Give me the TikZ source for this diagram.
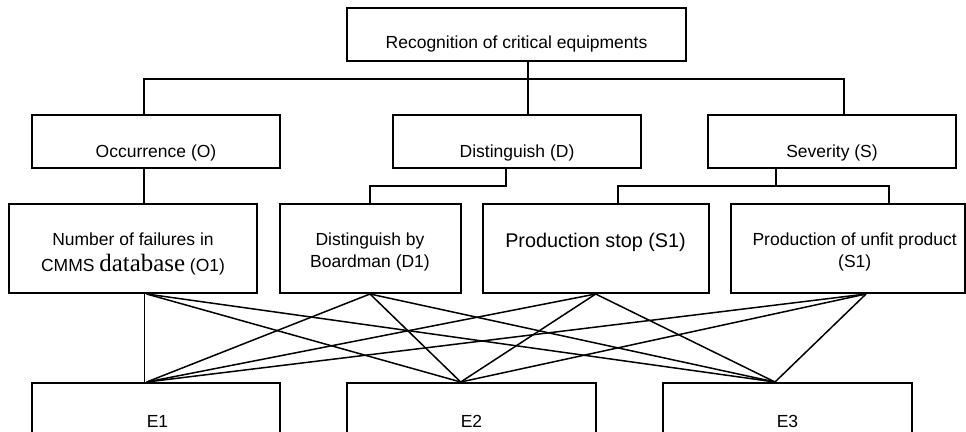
\documentclass[tikz,border=0pt]{standalone}
\usepackage{fontspec}
\setmainfont{Liberation Sans}
\newfontfamily\dbserif{Liberation Serif}
\begin{document}
\begin{tikzpicture}[x=1pt,y=-1pt,
  box/.style={draw=black, line width=2pt, rectangle, inner sep=0pt},
  tree/.style={draw=black, line width=1.8pt},
  cross/.style={draw=black, line width=1.5pt},
  thin/.style={draw=black, line width=1.2pt},
  txt/.style={anchor=base, inner sep=0pt, font=\fontsize{17.5}{20}\selectfont},
  bigtxt/.style={anchor=base, inner sep=0pt, font=\fontsize{19.8}{22}\selectfont}]
\clip (0,0) rectangle (966,431);
\fill[white] (0,0) rectangle (966,431);

% boxes
\node[box, minimum width=339pt, minimum height=53pt] (T) at (516.5,34.5) {};
\node[box, minimum width=248pt, minimum height=53pt] (O) at (156,141.5) {};
\node[box, minimum width=248pt, minimum height=53pt] (D) at (517,141.5) {};
\node[box, minimum width=248pt, minimum height=53pt] (S) at (832,141.5) {};
\node[box, minimum width=248pt, minimum height=89pt] (B1) at (133,248.5) {};
\node[box, minimum width=181pt, minimum height=89pt] (B2) at (370,248.5) {};
\node[box, minimum width=226pt, minimum height=89pt] (B3) at (596,248.5) {};
\node[box, minimum width=234pt, minimum height=89pt] (B4) at (848,248.5) {};
\node[box, minimum width=248pt, minimum height=80pt] (E1) at (156,423) {};
\node[box, minimum width=249pt, minimum height=80pt] (E2) at (471.5,423) {};
\node[box, minimum width=249pt, minimum height=80pt] (E3) at (787.5,423) {};

% texts
\node[txt] (tT) at (516.5,48.3) {Recognition of critical equipments};
\node[txt] (tO) at (156,157) {Occurrence (O)};
\node[txt] (tD) at (517,157) {Distinguish (D)};
\node[txt] (tS) at (832,157) {Severity (S)};
\node[txt] (tB1a) at (133,245.7) {Number of failures in};
\node[txt] (tB1b) at (133,271.5) {CMMS {\dbserif\fontsize{24.9}{26}\selectfont database} (O1)};
\node[txt] (tB2a) at (370,245.7) {Distinguish by};
\node[txt] (tB2b) at (370,267.7) {Boardman (D1)};
\node[bigtxt] (tB3) at (595.5,247.7) {Production stop (S1)};
\node[txt] (tB4a) at (854.7,245.7) {Production of unfit product};
\node[txt] (tB4b) at (854.7,267.3) {(S1)};
\node[txt] (tE1) at (157.5,427.7) {E1};
\node[txt] (tE2) at (471.5,427.7) {E2};
\node[txt] (tE3) at (787.5,427.7) {E3};

% junction coordinates
\coordinate (busL) at (144.3,79);
\coordinate (busM) at (528.3,79);
\coordinate (busR) at (843.7,79);
\coordinate (dj) at (505.7,185.7);
\coordinate (sj) at (776,185.7);
\coordinate (sl) at (618.3,185.7);
\coordinate (sr) at (888.7,185.7);
\coordinate (p1) at (146.7,0);
\coordinate (p2) at (370,0);
\coordinate (p3) at (595.7,0);
\coordinate (p4) at (866,0);
\coordinate (q1) at (146.7,0);
\coordinate (q2) at (460.7,0);
\coordinate (q3) at (775,0);

% tree connectors
\draw[tree] (T.south -| busM) -- (D.north -| busM);
\draw[tree] (O.north -| busL) -- (busL) -- (busR) -- (S.north -| busR);
\draw[tree] (D.south -| dj) -- (dj) -| (B2.north);
\draw[tree] (S.south -| sj) -- (sj);
\draw[tree] (B3.north -| sl) -- (sl) -- (sr) -- (B4.north -| sr);
\draw[tree] (O.south -| busL) -- (B1.north -| busL);

% cross connectors
\draw[thin] (B1.south -| busL) -- (E1.north -| busL);
\foreach \p/\b/\q/\e in {p1/B1/q2/E2, p1/B1/q3/E3,
                          p2/B2/q1/E1, p2/B2/q2/E2, p2/B2/q3/E3,
                          p3/B3/q1/E1, p3/B3/q2/E2, p3/B3/q3/E3,
                          p4/B4/q1/E1, p4/B4/q2/E2, p4/B4/q3/E3}{
  \draw[cross] (\b.south -| \p) -- (\e.north -| \q);
}
\end{tikzpicture}
\end{document}
